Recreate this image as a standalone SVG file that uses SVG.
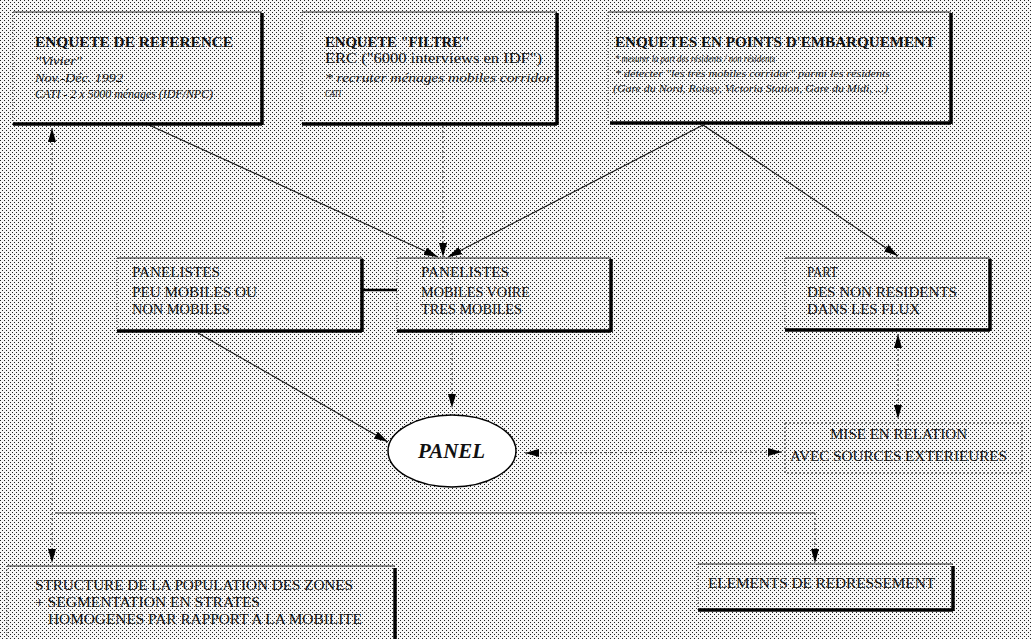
<svg xmlns="http://www.w3.org/2000/svg" width="1031" height="639" viewBox="0 0 1031 639">
<defs>
<pattern id="dots" width="4" height="4" patternUnits="userSpaceOnUse">
<rect width="4" height="4" fill="#f6f6f6"/>
<rect x="0" y="0" width="1" height="1" fill="#222"/>
<rect x="2" y="2" width="1" height="1" fill="#222"/>
</pattern>
<marker id="ah" viewBox="0 0 14 8" refX="14" refY="4" markerWidth="14" markerHeight="8" markerUnits="userSpaceOnUse" orient="auto-start-reverse">
<path d="M0,0 L14,4 L0,8 z" fill="#000"/>
</marker>
</defs>
<style>
.t{font-family:"Liberation Serif","Times New Roman",serif;fill:#111;}
.b{font-weight:bold;font-size:14px;}
.r{font-size:14px;}
.i{font-style:italic;}
.top{stroke:#222;stroke-width:1;fill:none;}
.lft{stroke:#444;stroke-width:1;stroke-dasharray:1 2;fill:none;}
.thk{stroke:#000;stroke-width:3.5;fill:none;}
.ln{stroke:#111;stroke-width:1.1;fill:none;}
.dt{stroke:#333;stroke-width:1;stroke-dasharray:2 3;fill:none;}
</style>
<rect width="1031" height="639" fill="url(#dots)"/>

<g id="connectors">
<line class="ln" x1="149" y1="125" x2="438" y2="257" marker-end="url(#ah)"/>
<line class="dt" x1="443" y1="126" x2="443" y2="257" marker-end="url(#ah)"/>
<line class="ln" x1="703" y1="125" x2="448" y2="257" marker-end="url(#ah)"/>
<line class="ln" x1="703" y1="125" x2="898" y2="256" marker-end="url(#ah)"/>
<line stroke="#000" stroke-width="2.5" x1="362" y1="290" x2="397" y2="290"/>
<line class="ln" x1="198" y1="333" x2="388" y2="442" marker-end="url(#ah)"/>
<line class="dt" x1="452" y1="333" x2="452" y2="408" marker-end="url(#ah)"/>
<line class="dt" x1="898" y1="334" x2="898" y2="419" marker-start="url(#ah)" marker-end="url(#ah)"/>
<line class="dt" x1="525" y1="453" x2="782" y2="452" marker-start="url(#ah)" marker-end="url(#ah)"/>
<line class="dt" x1="52" y1="128" x2="52" y2="563" marker-start="url(#ah)" marker-end="url(#ah)"/>
<line stroke="#333" stroke-width="1" x1="55" y1="513" x2="815" y2="513"/>
<line class="dt" x1="815" y1="513" x2="815" y2="563" marker-end="url(#ah)"/>
</g>

<g id="node-reference">
<line class="top" x1="13" y1="12" x2="262" y2="12"/>
<line class="lft" x1="13" y1="12" x2="13" y2="124"/>
<line class="thk" x1="262" y1="13" x2="262" y2="125"/>
<line class="thk" x1="13" y1="124" x2="262" y2="124"/>
<text class="t b" x="35" y="47" textLength="198" lengthAdjust="spacingAndGlyphs">ENQUETE DE REFERENCE</text>
<text class="t i" font-size="12" x="35" y="65" textLength="47" lengthAdjust="spacingAndGlyphs">"Vivier"</text>
<text class="t i" font-size="11.5" x="35" y="82" textLength="88" lengthAdjust="spacingAndGlyphs">Nov.-Déc. 1992</text>
<text class="t i" font-size="11.5" x="35" y="98" textLength="178" lengthAdjust="spacingAndGlyphs">CATI - 2 x 5000 ménages (IDF/NPC)</text>
</g>

<g id="node-filtre">
<line class="top" x1="302" y1="12" x2="557" y2="12"/>
<line class="lft" x1="302" y1="12" x2="302" y2="124"/>
<line class="thk" x1="557" y1="13" x2="557" y2="125"/>
<line class="thk" x1="302" y1="124" x2="557" y2="124"/>
<text class="t b" x="325" y="47" textLength="145" lengthAdjust="spacingAndGlyphs">ENQUETE "FILTRE"</text>
<text class="t r" x="325" y="63" textLength="217" lengthAdjust="spacingAndGlyphs">ERC ("6000 interviews en IDF")</text>
<text class="t i" font-size="13" x="325" y="82" textLength="227" lengthAdjust="spacingAndGlyphs">* recruter ménages mobiles corridor</text>
<text class="t i" font-size="10.5" x="325" y="97" textLength="16" lengthAdjust="spacingAndGlyphs">CATI</text>
</g>

<g id="node-embarquement">
<line class="top" x1="608" y1="12" x2="951" y2="12"/>
<line class="lft" x1="608" y1="12" x2="608" y2="123"/>
<line class="thk" x1="951" y1="13" x2="951" y2="124"/>
<line class="thk" x1="610" y1="123" x2="951" y2="123"/>
<text class="t b" x="615" y="47" textLength="320" lengthAdjust="spacingAndGlyphs">ENQUETES EN POINTS D'EMBARQUEMENT</text>
<text class="t i" font-size="10.5" x="615" y="62" textLength="160" lengthAdjust="spacingAndGlyphs">* mesurer la part des résidents / non résidents</text>
<text class="t i" font-size="10" x="615" y="77" textLength="275" lengthAdjust="spacingAndGlyphs">* détecter "les très mobiles corridor" parmi les résidents</text>
<text class="t i" font-size="10" x="613" y="92" textLength="275" lengthAdjust="spacingAndGlyphs">(Gare du Nord, Roissy, Victoria Station, Gare du Midi, ...)</text>
</g>

<g id="node-peu-mobiles">
<line class="top" x1="117" y1="258" x2="362" y2="258"/>
<line class="lft" x1="117" y1="258" x2="117" y2="331"/>
<line class="thk" x1="362" y1="259" x2="362" y2="332"/>
<line class="thk" x1="117" y1="331" x2="362" y2="331"/>
<text class="t r" x="132" y="277" textLength="88" lengthAdjust="spacingAndGlyphs">PANELISTES</text>
<text class="t r" x="132" y="297" textLength="125" lengthAdjust="spacingAndGlyphs">PEU MOBILES OU</text>
<text class="t r" x="132" y="314" textLength="98" lengthAdjust="spacingAndGlyphs">NON MOBILES</text>
</g>

<g id="node-mobiles">
<line class="top" x1="397" y1="258" x2="611" y2="258"/>
<line class="lft" x1="397" y1="258" x2="397" y2="331"/>
<line class="thk" x1="611" y1="259" x2="611" y2="332"/>
<line class="thk" x1="397" y1="331" x2="611" y2="331"/>
<text class="t r" x="421" y="277" textLength="88" lengthAdjust="spacingAndGlyphs">PANELISTES</text>
<text class="t r" x="421" y="297" textLength="109" lengthAdjust="spacingAndGlyphs">MOBILES VOIRE</text>
<text class="t r" x="421" y="314" textLength="101" lengthAdjust="spacingAndGlyphs">TRES MOBILES</text>
</g>

<g id="node-part">
<line class="top" x1="785" y1="258" x2="990" y2="258"/>
<line class="lft" x1="785" y1="258" x2="785" y2="330"/>
<line class="thk" x1="990" y1="259" x2="990" y2="331"/>
<line class="thk" x1="785" y1="330" x2="990" y2="330"/>
<text class="t r" x="807" y="277" textLength="31" lengthAdjust="spacingAndGlyphs">PART</text>
<text class="t r" x="807" y="297" textLength="150" lengthAdjust="spacingAndGlyphs">DES NON RESIDENTS</text>
<text class="t r" x="807" y="314" textLength="113" lengthAdjust="spacingAndGlyphs">DANS LES FLUX</text>
</g>

<g id="node-panel">
<ellipse cx="452" cy="451" rx="64" ry="36" fill="#fff" stroke="#000" stroke-width="1.5"/>
<text class="t" font-size="21" font-weight="bold" font-style="italic" x="418" y="458" textLength="67" lengthAdjust="spacingAndGlyphs">PANEL</text>
</g>

<g id="node-mise-en-relation">
<rect x="785" y="423" width="237" height="50" fill="none" stroke="#333" stroke-width="1" stroke-dasharray="2 2"/>
<text class="t r" x="830" y="439" textLength="137" lengthAdjust="spacingAndGlyphs">MISE EN RELATION</text>
<text class="t r" x="790" y="461" textLength="217" lengthAdjust="spacingAndGlyphs">AVEC SOURCES EXTERIEURES</text>
</g>

<g id="node-structure">
<line class="top" x1="7" y1="566" x2="395" y2="566"/>
<line class="lft" x1="7" y1="566" x2="7" y2="639"/>
<line class="thk" x1="395" y1="568" x2="395" y2="639"/>
<text class="t r" x="35" y="590" textLength="318" lengthAdjust="spacingAndGlyphs">STRUCTURE DE LA POPULATION DES ZONES</text>
<text class="t r" x="35" y="607" textLength="225" lengthAdjust="spacingAndGlyphs">+ SEGMENTATION EN STRATES</text>
<text class="t r" x="48" y="624" textLength="314" lengthAdjust="spacingAndGlyphs">HOMOGENES PAR RAPPORT A LA MOBILITE</text>
</g>

<g id="node-elements">
<line class="top" x1="698" y1="564" x2="953" y2="564"/>
<line class="lft" x1="698" y1="564" x2="698" y2="610"/>
<line class="thk" x1="953" y1="566" x2="953" y2="611"/>
<line class="thk" x1="698" y1="610" x2="953" y2="610"/>
<text class="t r" x="708" y="588" textLength="227" lengthAdjust="spacingAndGlyphs">ELEMENTS DE REDRESSEMENT</text>
</g>
</svg>
